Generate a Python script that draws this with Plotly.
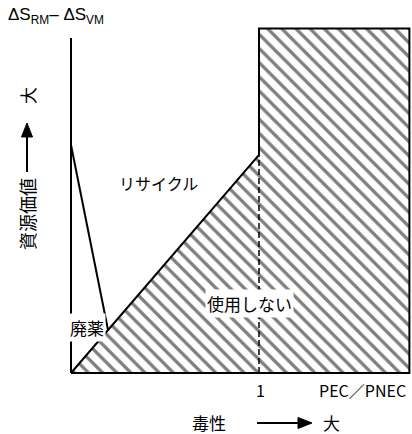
import plotly.graph_objects as go

# --- data (PEC/PNEC on x, resource value on y) ---
boundary_x = [0, 1, 1, 1.8, 1.8, 0]          # "使用しない" region outline
boundary_y = [0, 1, 1.58, 1.58, 0, 0]
threshold_x = [1, 1]                           # PEC/PNEC = 1 dashed line
threshold_y = [0, 1]
waste_x = [0, 0.197]                           # 廃薬 boundary
waste_y = [1.046, 0.197]
yaxis_top = 1.537
xaxis_end = 1.8

BLACK = "black"
JP = "Noto Sans CJK JP"
W, H = 412, 434
ML, MR, MT, MB = 61, 0, 20, 51

fig = go.Figure()
fig.add_trace(go.Scatter(
    x=boundary_x, y=boundary_y, mode="lines", fill="toself",
    fillcolor="white",
    fillpattern=dict(shape="\\", fgcolor=BLACK, bgcolor="white", size=10, solidity=0.33),
    line=dict(color=BLACK, width=2), hoverinfo="skip", showlegend=False))
fig.add_trace(go.Scatter(x=threshold_x, y=threshold_y, mode="lines",
                         line=dict(color=BLACK, width=1.5, dash="6px,3px"),
                         showlegend=False, hoverinfo="skip"))
fig.add_trace(go.Scatter(x=waste_x, y=waste_y, mode="lines",
                         line=dict(color=BLACK, width=2), showlegend=False, hoverinfo="skip"))
fig.add_trace(go.Scatter(x=[0, 0], y=[0, yaxis_top], mode="lines",
                         line=dict(color=BLACK, width=2), showlegend=False, hoverinfo="skip"))
fig.add_trace(go.Scatter(x=[0, xaxis_end], y=[0, 0], mode="lines",
                         line=dict(color=BLACK, width=2), showlegend=False, hoverinfo="skip"))

# pixel -> data (axis ranges) and pixel -> paper (labels)
def PX(xp):
    return (xp - 71) / 188.0
def PY(yp):
    return (373 - yp) / 218.0
def QX(xp):
    return (xp - ML) / (W - ML - MR)
def QY(yp):
    return (H - MB - yp) / (H - MT - MB)

def label(text, xp, yp, size=16, angle=0, bg=None, xanchor="center", family=JP):
    fig.add_annotation(x=QX(xp), y=QY(yp), xref="paper", yref="paper", text=text, showarrow=False,
                       font=dict(family=family, size=size, color=BLACK), textangle=angle,
                       xanchor=xanchor, yanchor="middle",
                       bgcolor=bg if bg else "rgba(0,0,0,0)", borderpad=1)

def arrow(x0, y0, x1, y1, head=14, half=5.5):
    # shaft + filled triangular head, drawn as shapes in paper coordinates
    dx, dy = x1 - x0, y1 - y0
    n = (dx * dx + dy * dy) ** 0.5
    ux, uy = dx / n, dy / n
    bx, by = x1 - ux * head, y1 - uy * head
    px_, py_ = -uy, ux
    fig.add_shape(type="line", xref="paper", yref="paper",
                  x0=QX(x0), y0=QY(y0), x1=QX(bx), y1=QY(by),
                  line=dict(color=BLACK, width=2))
    pts = [(x1, y1), (bx + px_ * half, by + py_ * half), (bx - px_ * half, by - py_ * half)]
    path = "M " + " L ".join(f"{QX(a):.5f},{QY(b):.5f}" for a, b in pts) + " Z"
    fig.add_shape(type="path", xref="paper", yref="paper", path=path,
                  fillcolor=BLACK, line=dict(color=BLACK, width=1))

label("ΔS<sub>RM</sub>– ΔS<sub>VM</sub>", 6, 16, size=17, xanchor="left", family="Liberation Sans")
label("資源価値", 27, 214, size=18, angle=-90)
arrow(27, 172, 27, 123)
label("大", 27, 96, size=17, angle=-90)
label("リサイクル", 158, 183, size=16)
label("使用しない", 249, 303, size=17, bg="white")
label("廃薬", 87, 327, size=17, bg="white")
label("1", 260, 390, size=16)
label("PEC／PNEC", 362, 390, size=16)
label("毒性", 209, 422, size=17)
arrow(257, 423, 312, 423)
label("大", 331, 422, size=17)

fig.update_layout(
    width=W, height=H,
    margin=dict(l=ML, r=MR, t=MT, b=MB),
    paper_bgcolor="white", plot_bgcolor="white",
    xaxis=dict(range=[PX(ML), PX(W - MR)], visible=False, fixedrange=True),
    yaxis=dict(range=[PY(H - MB), PY(MT)], visible=False, fixedrange=True),
    showlegend=False,
)
post = ("document.body.style.margin='0';document.body.style.overflow='hidden';"
        "var gd=document.getElementById('{plot_id}');"
        "Plotly.relayout(gd,{width:%d,height:%d});" % (W, H))
fig.write_html("out.html", post_script=post, config={"displayModeBar": False})
